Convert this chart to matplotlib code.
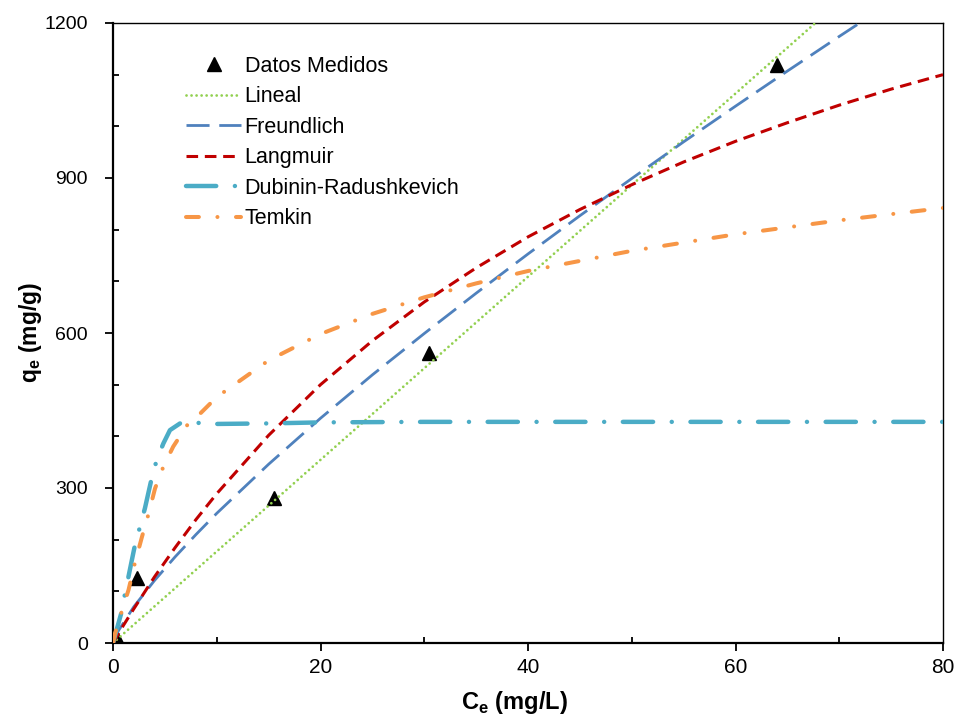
import matplotlib
matplotlib.use("Agg")
import matplotlib.pyplot as plt
from matplotlib.ticker import MultipleLocator

plt.rcParams['font.family'] = ['Liberation Sans', 'DejaVu Sans']

# ---- data ----
ce_measured = [0.5, 2.3, 15.5, 30.5, 64.0]
qe_measured = [5, 126, 280, 561, 1118]

lineal_ce = [0, 67.7]
lineal_qe = [0, 1200]

freund_ce = [0, 0.5, 2, 4, 6, 8, 10, 15, 20, 25, 30, 35, 40, 45, 50, 55, 60, 65, 70, 72.5]
freund_qe = [0, 23, 70, 121, 167, 210, 251, 346, 435, 519, 599, 677, 753, 827, 899, 970, 1039, 1107, 1174, 1207]

langm_ce = [0, 1, 2, 4, 6, 8, 10, 15, 20, 25, 30, 35, 40, 45, 50, 55, 60, 65, 70, 75, 80]
langm_qe = [0, 34, 66, 128, 185, 239, 289, 402, 500, 585, 660, 726, 786, 839, 887, 931, 971, 1007, 1041, 1072, 1100]

dr_ce = [0, 0.84, 1.16, 2.12, 2.6, 3.08, 3.73, 4.21, 4.85, 5.49, 6.46, 7.3, 10, 15, 20, 30, 40, 50, 60, 70, 80]
dr_qe = [0, 61, 96, 190, 225, 261, 319, 354, 386, 412, 425, 427, 424, 425, 427, 428, 428, 428, 428, 428, 428]

temkin_ce = [0, 0.2, 0.84, 1.5, 2.1, 2.8, 3.4, 4.05, 4.85, 5.8, 7.26, 8, 10, 15, 20, 25, 30, 35, 40, 50, 60, 70, 80]
temkin_qe = [0, 19, 61, 103, 154, 206, 248, 299, 341, 380, 425, 436, 476, 547, 598, 637, 669, 696, 720, 759, 791, 818, 842]

labels = ['Datos Medidos', 'Lineal', 'Freundlich', 'Langmuir', 'Dubinin-Radushkevich', 'Temkin']

fig = plt.figure(figsize=(9.62, 7.2), dpi=100)
ax = fig.add_axes([113/962, 1-643/720, 830/962, 620/720])

ax.plot(ce_measured, qe_measured, linestyle='none', marker='^', color='black',
        markersize=10, label=labels[0], zorder=2)

l1, = ax.plot(lineal_ce, lineal_qe, color='#92D050', lw=2, label=labels[1],
              dash_capstyle='round', zorder=3)
l1.set_dashes((0.01, 1.8))

l2, = ax.plot(freund_ce, freund_qe, color='#4F81BD', lw=2, label=labels[2],
              dash_capstyle='butt', zorder=4)
l2.set_dashes((8.3, 3.5))

l3, = ax.plot(langm_ce, langm_qe, color='#C00000', lw=2.2, label=labels[3],
              dash_capstyle='butt', zorder=5)
l3.set_dashes((3.8, 2.2))

l4, = ax.plot(dr_ce, dr_qe, color='#4BACC6', lw=3.2, label=labels[4],
              dash_capstyle='round', zorder=6)
l4.set_dashes((6.8, 4.2, 0.01, 4.2))

l5, = ax.plot(temkin_ce, temkin_qe, color='#F79646', lw=2.9, label=labels[5],
              dash_capstyle='round', zorder=7)
l5.set_dashes((3.2, 4.6, 0.01, 4.6))

ax.set_xlim(0, 80)
ax.set_ylim(0, 1200)
ax.xaxis.set_major_locator(MultipleLocator(20))
ax.xaxis.set_minor_locator(MultipleLocator(10))
ax.yaxis.set_major_locator(MultipleLocator(300))
ax.yaxis.set_minor_locator(MultipleLocator(100))
ax.tick_params(which='major', direction='out', length=6, width=1.3, colors='black')
ax.tick_params(axis='y', which='major', labelsize=14, pad=12)
ax.tick_params(axis='x', which='major', labelsize=15, pad=5)
ax.tick_params(which='minor', direction='in', length=4, width=1.3)

for s in ['left', 'bottom']:
    ax.spines[s].set_linewidth(1.6)
for s in ['top', 'right']:
    ax.spines[s].set_linewidth(1.0)

ax.set_xlabel('C$_\\mathregular{e}$ (mg/L)', fontsize=17, fontweight='bold', labelpad=7)
ax.xaxis.set_label_coords(0.4837, -0.075)
ax.set_ylabel('q$_\\mathregular{e}$ (mg/g)', fontsize=16.5, fontweight='bold', labelpad=0)

leg = ax.legend(loc='upper left', bbox_to_anchor=(0.078, 0.961), frameon=False,
                fontsize=15.5, handlelength=2.56, handletextpad=0.15, labelspacing=0.44,
                borderaxespad=0)

fig.savefig('out.png', dpi=100)
